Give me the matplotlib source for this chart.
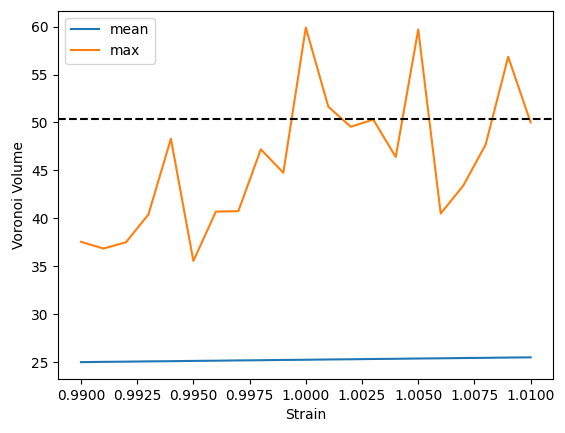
import numpy as np
import matplotlib
matplotlib.use('Agg')
import matplotlib.pyplot as plt

# strain values and voronoi volumes
strain = [0.990, 0.991, 0.992, 0.993, 0.994, 0.995, 0.996, 0.997, 0.998, 0.999, 1.000,
          1.001, 1.002, 1.003, 1.004, 1.005, 1.006, 1.007, 1.008, 1.009, 1.010]
vol_mean = [25.00, 25.03, 25.05, 25.08, 25.10, 25.13, 25.15, 25.18, 25.20, 25.23, 25.25,
            25.28, 25.30, 25.33, 25.35, 25.38, 25.40, 25.43, 25.45, 25.48, 25.50]
vol_max = [37.55, 36.85, 37.5, 40.4, 48.3, 35.55, 40.7, 40.75, 47.2, 44.75, 59.9,
           51.65, 49.55, 50.3, 46.4, 59.7, 40.5, 43.4, 47.7, 56.85, 50.0]
ref_level = 50.4

fig = plt.figure(figsize=(5.65, 4.33), dpi=100)
ax = fig.add_subplot(111)
fig.subplots_adjust(left=0.1035, right=0.979, top=0.975, bottom=0.125)

ax.plot(strain, vol_mean, label='mean')
ax.plot(strain, vol_max, label='max')
ax.axhline(ref_level, color='black', linestyle='--')
ax.set_xlabel('Strain')
ax.set_ylabel('Voronoi Volume')
ax.legend(loc='upper left')

fig.savefig('out.png', dpi=100)
